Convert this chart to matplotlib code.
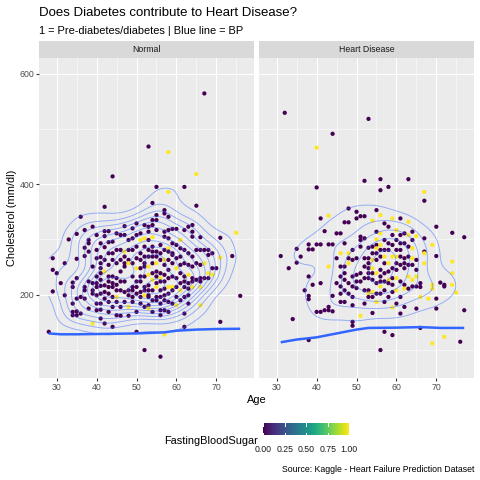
import numpy as np
import matplotlib
matplotlib.use("Agg")
import matplotlib.pyplot as plt
from matplotlib.ticker import MaxNLocator

plt.rcParams['font.family'] = ['Liberation Sans', 'DejaVu Sans']

# ---- data ----
normal_age = [
    28,
    29, 29, 29,
    30,
    31,
    32, 32,
    33,
    34, 34, 34, 34, 34,
    35, 35, 35, 35, 35, 35,
    36, 36, 36,
    37, 37, 37, 37, 37, 37,
    38, 38, 38, 38, 38,
    39, 39, 39, 39, 39, 39,
    40, 40, 40, 40, 40, 40, 40, 40, 40,
    41, 41, 41, 41, 41, 41, 41, 41, 41, 41, 41,
    42, 42, 42, 42, 42, 42, 42, 42, 42, 42,
    43, 43, 43, 43, 43, 43, 43, 43, 43, 43,
    44, 44, 44, 44, 44, 44, 44, 44, 44, 44,
    45, 45, 45, 45, 45, 45, 45, 45, 45,
    46, 46, 46, 46, 46, 46, 46, 46,
    47, 47, 47, 47, 47, 47, 47, 47, 47,
    48, 48, 48, 48, 48, 48, 48, 48,
    49, 49, 49, 49, 49, 49, 49, 49, 49,
    50, 50, 50, 50, 50, 50, 50, 50, 50, 50,
    51, 51, 51, 51, 51, 51, 51, 51, 51, 51,
    52, 52, 52, 52, 52, 52, 52, 52, 52, 52, 52, 52,
    53, 53, 53, 53, 53, 53, 53, 53, 53, 53, 53, 53, 53, 53,
    54, 54, 54, 54, 54, 54, 54, 54, 54, 54, 54, 54, 54,
    55, 55, 55, 55, 55, 55, 55, 55, 55, 55, 55, 55, 55,
    56, 56, 56, 56, 56, 56, 56, 56, 56, 56, 56, 56,
    57, 57, 57, 57, 57, 57, 57, 57, 57, 57, 57, 57, 57, 57,
    58, 58, 58, 58, 58, 58, 58, 58, 58, 58, 58, 58, 58, 58,
    59, 59, 59, 59, 59, 59, 59, 59, 59,
    60, 60, 60, 60, 60, 60, 60, 60,
    61, 61, 61, 61, 61, 61, 61, 61,
    62, 62, 62, 62, 62, 62, 62, 62, 62, 62,
    63, 63, 63, 63, 63, 63, 63, 63,
    64, 64, 64, 64, 64, 64, 64, 64,
    65, 65, 65, 65, 65,
    66, 66, 66, 66, 66, 66, 66,
    67, 67, 67, 67,
    68, 68, 68, 68,
    69, 69, 69,
    70,
    71, 71, 71,
    74, 75, 76,
]
normal_chol = [
    133,
    266, 245, 206,
    239,
    221,
    257, 199,
    300,
    222, 214, 184, 169, 163,
    310, 265, 230, 193, 170, 163,
    341, 196, 166,
    317, 285, 270, 214, 208, 193,
    299, 293, 278, 224, 175,
    323, 251, 221, 208, 202, 148,
    308, 281, 266, 233, 221, 214, 199, 184, 172,
    293, 268, 257, 248, 239, 227, 216, 202, 184, 173, 157,
    359, 315, 306, 286, 263, 242, 217, 205, 193, 148,
    315, 295, 275, 254, 233, 224, 214, 202, 187, 169,
    414, 296, 275, 263, 233, 221, 214, 196, 178, 142,
    311, 281, 257, 230, 218, 208, 196, 187, 163,
    308, 281, 263, 242, 224, 208, 178, 162,
    324, 308, 278, 269, 257, 251, 224, 205, 187,
    299, 281, 263, 257, 208, 199, 178, 162,
    320, 302, 281, 257, 233, 214, 208, 196, 187,
    329, 308, 287, 266, 248, 224, 214, 202, 169, 133,
    311, 299, 275, 263, 248, 233, 224, 205, 196, 184,
    326, 302, 287, 269, 257, 251, 233, 214, 208, 199, 178, 100,
    468, 323, 314, 299, 281, 269, 251, 236, 217, 208, 199, 196, 181, 175,
    366, 335, 326, 304, 287, 278, 269, 257, 239, 227, 208, 190, 169,
    395, 344, 335, 317, 278, 269, 257, 242, 233, 221, 214, 196, 190,
    290, 275, 263, 239, 230, 224, 208, 196, 184, 172, 163, 88,
    353, 347, 314, 305, 281, 263, 254, 236, 224, 211, 199, 190, 172, 128,
    458, 386, 341, 317, 302, 284, 278, 263, 245, 230, 214, 202, 187, 169,
    319, 293, 275, 272, 257, 233, 214, 208, 184,
    319, 290, 266, 248, 230, 214, 196, 181,
    299, 284, 269, 254, 239, 221, 208, 190,
    395, 317, 281, 257, 233, 224, 214, 196, 166, 142,
    323, 275, 254, 236, 221, 211, 199, 184,
    326, 314, 305, 269, 251, 230, 224, 214,
    418, 361, 281, 257, 227,
    304, 281, 254, 230, 224, 214, 181,
    564, 281, 257, 230,
    281, 272, 239, 230,
    275, 248, 236,
    248,
    303, 267, 151,
    270, 312, 198,
]
normal_fbs = [
    0,
    0, 0, 0,
    0,
    0,
    0, 0,
    0,
    0, 0, 0, 0, 0,
    0, 0, 0, 0, 0, 0,
    0, 0, 0,
    0, 0, 0, 0, 0, 0,
    0, 0, 0, 0, 0,
    0, 0, 0, 0, 0, 1,
    0, 0, 0, 0, 0, 0, 0, 0, 0,
    0, 0, 0, 0, 0, 0, 0, 0, 0, 0, 0,
    0, 0, 0, 0, 0, 1, 0, 0, 0, 0,
    0, 0, 0, 0, 0, 0, 0, 0, 0, 0,
    0, 0, 0, 0, 0, 0, 0, 0, 0, 0,
    0, 0, 0, 0, 0, 0, 1, 0, 0,
    0, 0, 0, 0, 0, 0, 0, 0,
    0, 0, 1, 0, 0, 0, 0, 0, 0,
    0, 0, 0, 1, 0, 0, 1, 0,
    0, 0, 0, 0, 0, 0, 0, 0, 0,
    0, 0, 0, 0, 1, 0, 0, 0, 0, 0,
    0, 1, 0, 0, 0, 0, 0, 0, 0, 0,
    0, 1, 0, 0, 0, 0, 0, 0, 0, 1, 0, 0,
    0, 0, 0, 0, 0, 0, 1, 1, 0, 0, 0, 0, 0, 1,
    0, 0, 0, 1, 0, 0, 0, 0, 0, 1, 0, 0, 0,
    0, 0, 0, 0, 0, 0, 1, 0, 0, 0, 1, 0, 0,
    0, 0, 0, 0, 1, 0, 0, 0, 0, 0, 0, 0,
    0, 0, 0, 0, 0, 1, 0, 0, 0, 0, 0, 0, 0, 1,
    1, 1, 0, 0, 0, 1, 0, 0, 0, 0, 1, 0, 0, 0,
    0, 0, 0, 0, 0, 0, 1, 0, 0,
    0, 0, 0, 1, 0, 0, 0, 1,
    1, 0, 0, 0, 0, 0, 1, 0,
    0, 0, 0, 0, 0, 0, 0, 0, 0, 0,
    0, 0, 0, 1, 0, 0, 0, 0,
    0, 0, 0, 0, 0, 0, 0, 1,
    1, 0, 0, 0, 0,
    0, 0, 0, 0, 0, 1, 1,
    0, 0, 1, 0,
    0, 0, 1, 0,
    0, 0, 1,
    0,
    0, 1, 0,
    0, 1, 0,
]

hd_age = [
    31, 32, 33, 34,
    35, 35,
    36, 37,
    38, 38, 38, 38, 38, 38,
    39, 39,
    40, 40, 40, 40,
    41, 41, 41, 41,
    42, 42,
    43, 43, 43, 43, 43,
    44, 44, 44, 44,
    45, 45, 45,
    46, 46, 46, 46, 46, 46, 46,
    47, 47, 47, 47, 47, 47, 47,
    48, 48, 48, 48, 48, 48, 48,
    49, 49, 49, 49, 49, 49, 49, 49,
    50, 50, 50, 50, 50, 50,
    51, 51, 51, 51, 51, 51, 51,
    52, 52, 52, 52, 52, 52, 52, 52,
    53, 53, 53, 53, 53, 53, 53, 53, 53, 53,
    54, 54, 54, 54, 54, 54, 54, 54, 54, 54,
    55, 55, 55, 55, 55, 55, 55, 55, 55, 55, 55,
    56, 56, 56, 56, 56, 56, 56, 56, 56, 56, 56, 56, 56,
    57, 57, 57, 57, 57, 57, 57, 57, 57, 57,
    58, 58, 58, 58, 58, 58, 58, 58, 58,
    59, 59, 59, 59, 59, 59, 59, 59, 59, 59,
    60, 60, 60, 60, 60, 60, 60, 60, 60,
    61, 61, 61, 61, 61, 61, 61, 61, 61,
    62, 62, 62, 62, 62, 62, 62, 62,
    63, 63, 63, 63, 63, 63, 63, 63,
    64, 64, 64, 64, 64, 64, 64,
    65, 65, 65, 65, 65, 65,
    66, 66, 66, 66,
    67, 67, 67, 67, 67, 67,
    68,
    69, 69, 69, 69,
    70, 70, 70, 70,
    71,
    72, 72, 72,
    74, 74, 74, 74,
    75, 76,
    77, 77,
]
hd_chol = [
    270, 529, 248, 156,
    283, 258,
    269, 208,
    291, 282, 233, 198, 192, 118,
    282, 218,
    466, 394, 291, 169,
    338, 291, 221, 169,
    315, 172,
    343, 291, 251, 178, 172,
    491, 291, 198, 170,
    311, 266, 221,
    311, 275, 251, 233, 215, 202, 187,
    331, 293, 251, 239, 227, 208, 187,
    356, 331, 275, 266, 257, 221, 202,
    281, 263, 233, 215, 196, 181, 151, 144,
    350, 338, 266, 236, 224, 212,
    342, 305, 299, 287, 239, 224, 162,
    406, 342, 302, 266, 251, 230, 208, 184,
    518, 285, 266, 257, 248, 239, 230, 208, 202, 196,
    334, 287, 275, 263, 248, 239, 227, 205, 196, 167,
    353, 314, 300, 290, 284, 275, 263, 239, 221, 202, 187,
    409, 389, 344, 311, 290, 281, 269, 245, 233, 224, 215, 202, 100,
    329, 299, 281, 269, 257, 239, 224, 208, 187, 133,
    395, 323, 293, 281, 257, 242, 227, 221, 196,
    338, 308, 290, 269, 248, 230, 218, 205, 177, 127,
    317, 299, 281, 269, 257, 245, 230, 208, 184,
    338, 308, 293, 281, 269, 254, 224, 196, 166,
    311, 293, 266, 257, 248, 218, 211, 178,
    409, 332, 308, 287, 269, 254, 233, 211,
    314, 299, 284, 266, 254, 227, 215,
    306, 263, 245, 233, 215, 175,
    221, 214, 196, 140,
    386, 370, 302, 278, 275, 257,
    193,
    290, 218, 211, 112,
    323, 270, 193, 175,
    222,
    218, 215, 124,
    312, 260, 239, 218,
    204, 115,
    304, 172,
]
hd_fbs = [
    0, 0, 0, 0,
    0, 0,
    0, 0,
    0, 0, 0, 0, 0, 0,
    0, 0,
    1, 0, 0, 0,
    0, 0, 0, 0,
    0, 0,
    1, 0, 1, 0, 0,
    0, 0, 0, 0,
    0, 0, 0,
    0, 1, 0, 0, 0, 0, 0,
    0, 0, 0, 0, 0, 0, 0,
    0, 0, 1, 0, 1, 0, 0,
    0, 0, 0, 0, 0, 0, 0, 0,
    0, 0, 0, 0, 0, 0,
    0, 0, 0, 0, 0, 0, 1,
    0, 0, 0, 0, 0, 0, 0, 0,
    0, 0, 0, 0, 0, 0, 0, 0, 1, 0,
    1, 0, 0, 1, 1, 0, 0, 1, 0, 0,
    0, 0, 1, 0, 1, 0, 0, 1, 0, 0, 1,
    0, 0, 1, 1, 1, 0, 0, 0, 0, 0, 1, 0, 0,
    0, 0, 0, 1, 0, 0, 0, 0, 0, 0,
    0, 0, 0, 0, 1, 0, 1, 0, 0,
    1, 0, 0, 1, 0, 0, 0, 0, 1, 0,
    1, 0, 0, 1, 0, 0, 1, 1, 0,
    0, 0, 0, 0, 0, 0, 0, 0, 0,
    0, 0, 0, 0, 0, 0, 1, 0,
    0, 1, 1, 0, 0, 0, 1, 0,
    0, 0, 1, 1, 0, 1, 0,
    1, 0, 0, 1, 0, 0,
    0, 0, 1, 0,
    1, 0, 0, 0, 1, 1,
    1,
    1, 1, 1, 1,
    0, 0, 0, 0,
    0,
    0, 0, 1,
    0, 1, 1, 1,
    1, 0,
    0, 0,
]

# resting BP trend (blue line)
bp_age_normal = [28, 31, 35, 40, 45, 50, 53, 57, 60, 65, 70, 76]
bp_normal = [130, 128.5, 128.5, 129, 129.5, 130, 131, 132, 135, 137, 138, 138.5]
bp_age_hd = [31, 35, 40, 45, 50, 53, 60, 66, 71, 77]
bp_hd = [114, 119, 123, 130, 137, 140, 140.5, 141.5, 140, 140]

panels = ["Normal", "Heart Disease"]
xticks = [30, 40, 50, 60, 70]
yticks = [200, 400, 600]

W = H = 480.0


def frac(x0, y0, x1, y1):
    return [x0 / W, 1 - y1 / H, (x1 - x0) / W, (y1 - y0) / H]


def bw_nrd(v):
    v = np.asarray(v, float)
    q = np.percentile(v, [25, 75])
    h = (q[1] - q[0]) / 1.34
    return 4 * 1.06 * min(np.sqrt(np.var(v, ddof=1)), h) * len(v) ** (-0.2)


def kde2d(x, y, xlim, ylim, n=100):
    x = np.asarray(x, float)
    y = np.asarray(y, float)
    gx = np.linspace(xlim[0], xlim[1], n)
    gy = np.linspace(ylim[0], ylim[1], n)
    hx = bw_nrd(x) / 4
    hy = bw_nrd(y) / 4
    ax_ = np.exp(-0.5 * ((gx[:, None] - x[None, :]) / hx) ** 2)
    ay_ = np.exp(-0.5 * ((gy[:, None] - y[None, :]) / hy) ** 2)
    z = ay_ @ ax_.T / (len(x) * 2 * np.pi * hx * hy)
    return gx, gy, z


fig = plt.figure(figsize=(W / 72, H / 72), dpi=72)
fig.patch.set_facecolor("white")

data = [(normal_age, normal_chol, normal_fbs, bp_age_normal, bp_normal),
        (hd_age, hd_chol, hd_fbs, bp_age_hd, bp_hd)]
lefts = [(39, 254), (259, 474)]

all_age = normal_age + hd_age
all_chol = normal_chol + hd_chol
xr = (min(all_age), max(all_age))
yr = (min(all_chol), max(all_chol))

for i, (name, (x0, x1), d) in enumerate(zip(panels, lefts, data)):
    age, chol, fbs, bpa, bp = d
    ax = fig.add_axes(frac(x0, 57.5, x1, 377.7))
    ax.set_facecolor("#EBEBEB")
    for s in ax.spines.values():
        s.set_visible(False)
    ax.set_xlim(25.55, 79.45)
    ax.set_ylim(50, 629)
    ax.set_xticks(xticks)
    ax.set_xticks([35, 45, 55, 65, 75], minor=True)
    ax.set_yticks(yticks)
    ax.set_yticks([100, 300, 500], minor=True)
    ax.grid(which="major", color="white", lw=1.07)
    ax.grid(which="minor", color="white", lw=0.53)
    ax.set_axisbelow(True)
    ax.tick_params(which="major", length=2.75, width=1.07, color="#333333",
                   labelcolor="#4D4D4D", labelsize=8.8, pad=2.2)
    ax.tick_params(which="minor", length=0)
    if i == 1:
        ax.tick_params(axis="y", which="both", length=0, labelleft=False)

    ax.scatter(age, chol, c=fbs, cmap="viridis", vmin=0, vmax=1,
               s=18, linewidths=0, zorder=2)

    gx, gy, z = kde2d(age, chol, xr, yr)
    levels = MaxNLocator(nbins=12, steps=[1, 2, 5, 10]).tick_values(z.min(), z.max())
    levels = levels[(levels > z.min()) & (levels < z.max())]
    ax.contour(gx, gy, z, levels=levels, colors="#3366FF", alpha=0.5,
               linewidths=0.9, zorder=3)

    ax.plot(bpa, bp, color="#3366FF", lw=2.5, zorder=4, solid_capstyle="butt")

    sax = fig.add_axes(frac(x0, 41, x1, 57.5))
    sax.set_facecolor("#D9D9D9")
    for s in sax.spines.values():
        s.set_visible(False)
    sax.set_xticks([])
    sax.set_yticks([])
    sax.text(0.5, 0.5, name, ha="center", va="center", size=8.8,
             color="#1A1A1A", transform=sax.transAxes)

# titles and labels
fig.text(39 / W, 1 - 12.7 / H, "Does Diabetes contribute to Heart Disease?",
         size=13.2, va="center", ha="left")
fig.text(39 / W, 1 - 30.7 / H, "1 = Pre-diabetes/diabetes | Blue line = BP",
         size=11, va="center", ha="left")
fig.text(256.5 / W, 1 - 400 / H, "Age", size=11, ha="center", va="center")
fig.text(12 / W, 1 - 217.6 / H, "Cholesterol (mm/dl)", size=11, rotation=90,
         ha="center", va="center")

# colour bar legend
cax = fig.add_axes(frac(263.3, 423.3, 349.3, 435))
cax.imshow(np.linspace(0, 1, 300)[None, :], aspect="auto", cmap="viridis",
           extent=[0, 1, 0, 1])
for v in [0, 0.25, 0.5, 0.75, 1.0]:
    cax.plot([v, v], [0, 0.2], color="white", lw=1)
    cax.plot([v, v], [0.8, 1], color="white", lw=1)
cax.set_xlim(0, 1)
cax.set_ylim(0, 1)
cax.axis("off")
for v in [0, 0.25, 0.5, 0.75, 1.0]:
    fig.text((263.3 + v * 86) / W, 1 - 449 / H, "%.2f" % v, size=8.8,
             ha="center", va="center", color="#1A1A1A")
fig.text(164 / W, 1 - 440.5 / H, "FastingBloodSugar", size=11,
         ha="left", va="center")

fig.text(474 / W, 1 - 470 / H, "Source: Kaggle - Heart Failure Prediction Dataset",
         size=8.8, ha="right", va="center")

fig.savefig("out.png", dpi=72)
